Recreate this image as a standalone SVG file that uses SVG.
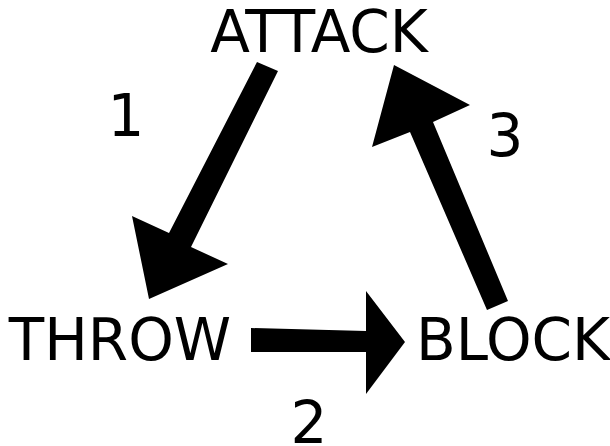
<svg xmlns="http://www.w3.org/2000/svg" width="610" height="446" viewBox="0 0 610 446">
<style>
.lbl{font-family:"DejaVu Sans",Verdana,sans-serif;font-size:58px;fill:#000;text-anchor:middle}
.arr{fill:#000;stroke:none}
</style>
<rect width="610" height="446" fill="#fff"/>
<g id="node-attack"><text class="lbl" x="319" y="52">ATTACK</text></g>
<g id="node-throw"><text class="lbl" x="120" y="360">THROW</text></g>
<g id="node-block"><text class="lbl" x="513" y="360">BLOCK</text></g>
<g id="connectors">
<polygon class="arr" points="257,62 278,71 191,247 228,264 149,299 132,216 169,233"/>
<polygon class="arr" points="251,328 366,331 366,291 405,342 366,394 366,352 251,352"/>
<polygon class="arr" points="487,310 508,301 433,122 470,105 394,65 372,147 410,132"/>
</g>
<g id="labels">
<text class="lbl" x="126" y="136">1</text>
<text class="lbl" x="309" y="443">2</text>
<text class="lbl" x="505" y="156">3</text>
</g>
</svg>
